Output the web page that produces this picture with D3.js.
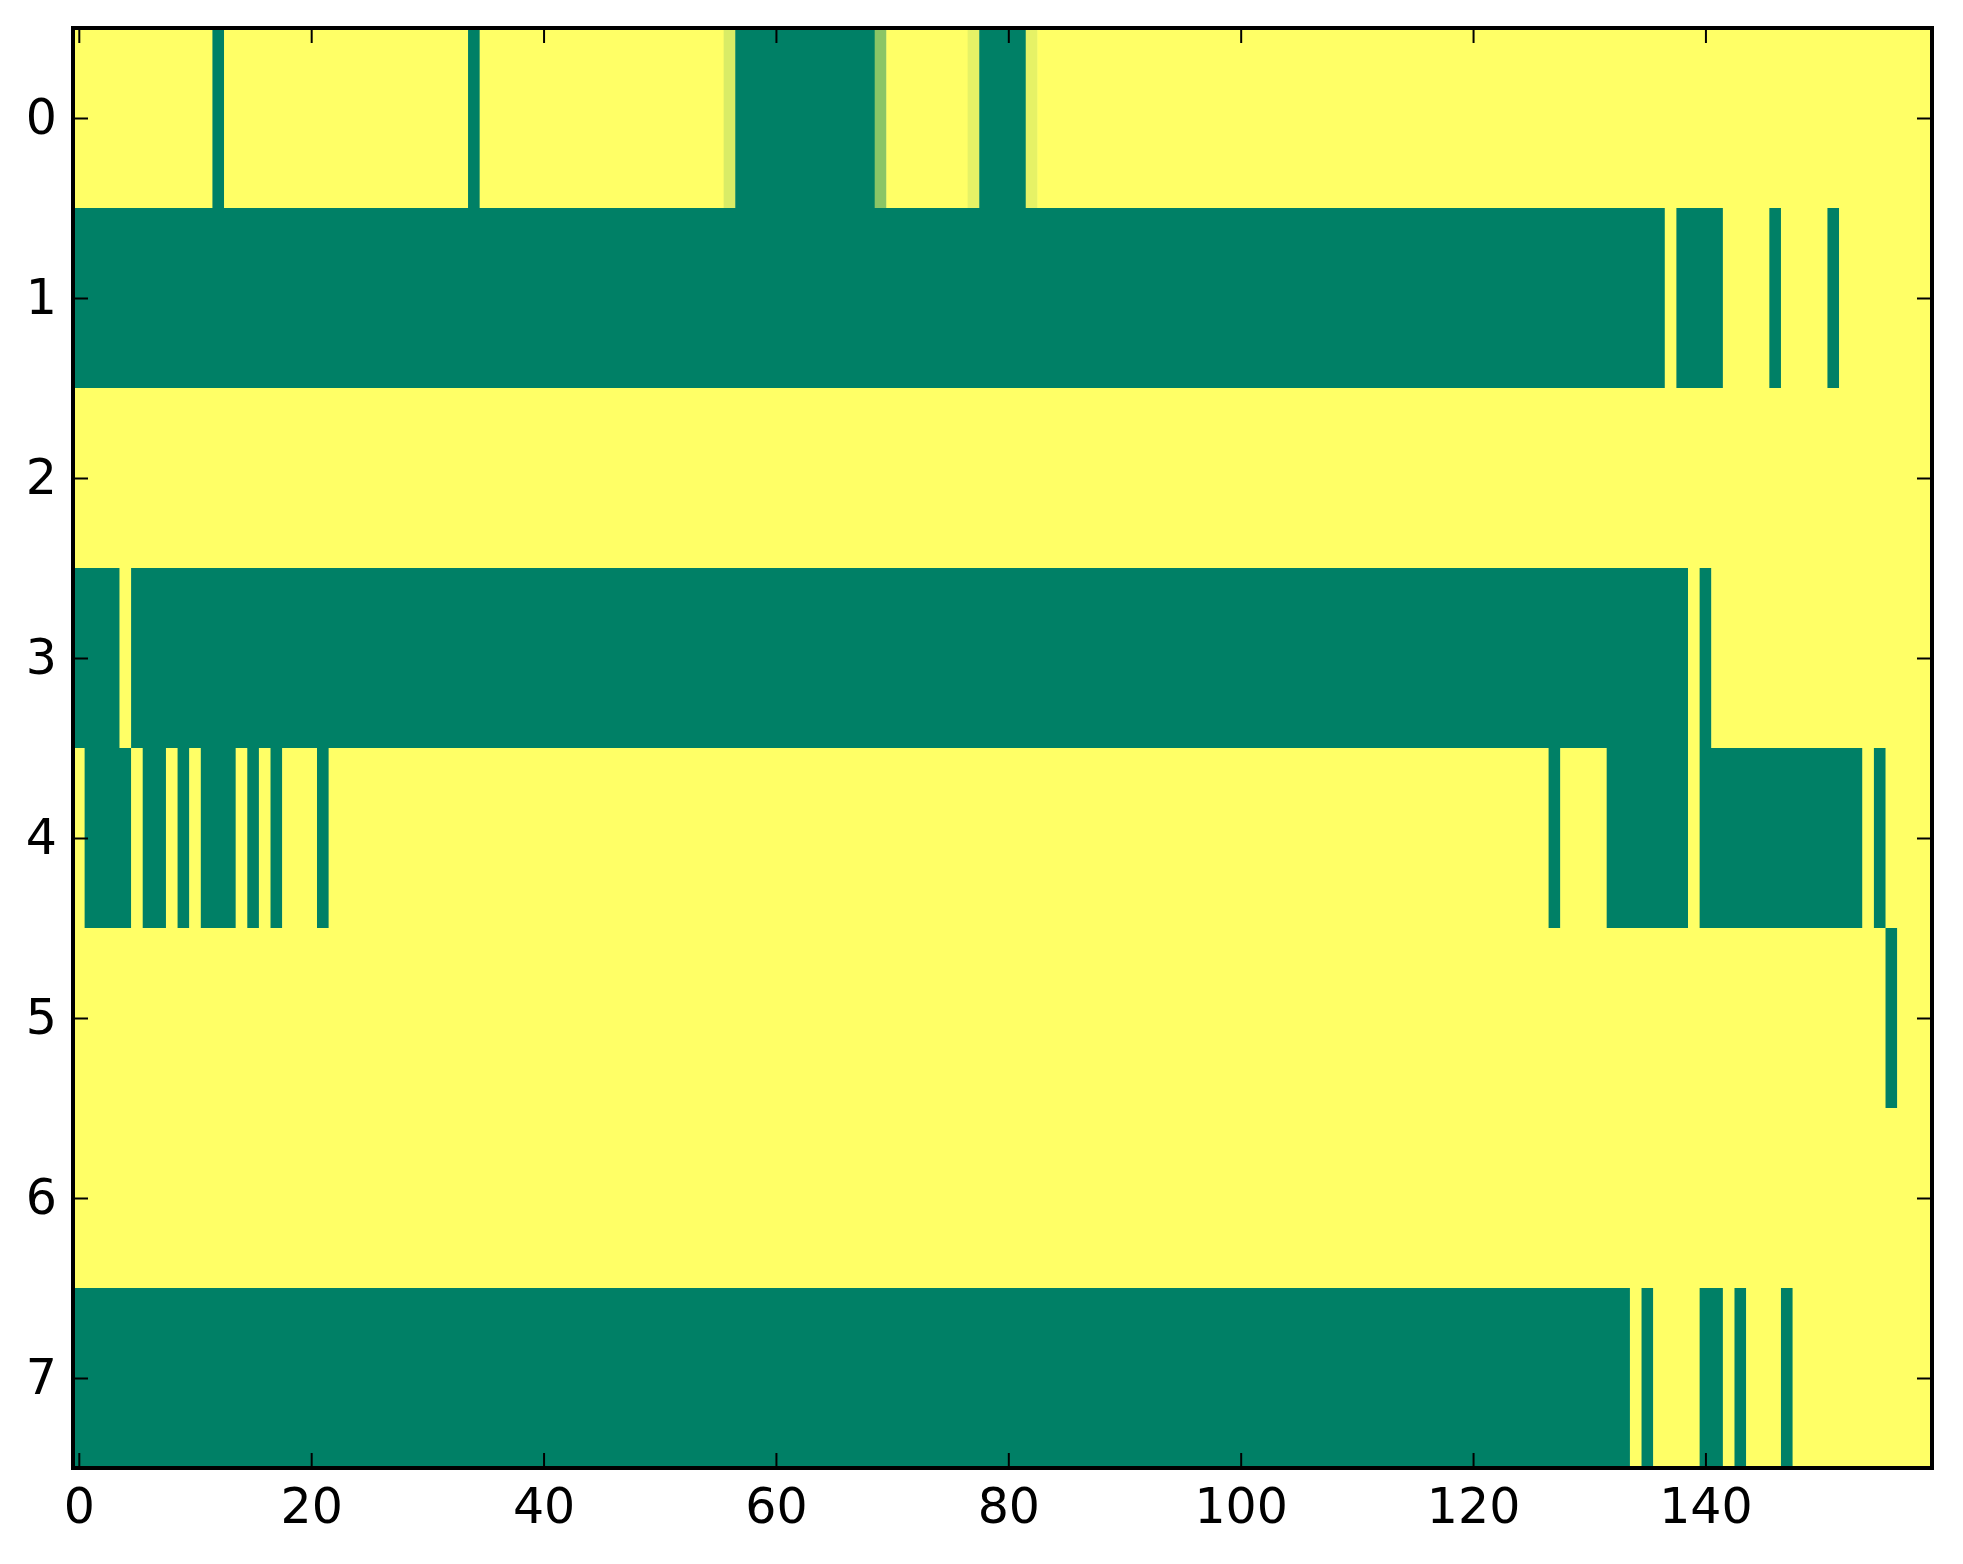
<!DOCTYPE html>
<html>
<head>
<meta charset="utf-8">
<script src="https://cdn.jsdelivr.net/npm/d3@7"></script>
<style>
  body { margin: 0; background: #fff; }
  svg { display: block; }
  .tick text { font-family: "DejaVu Sans", sans-serif; font-size: 49px; fill: #000; }
</style>
</head>
<body>
<svg></svg>
<script>
const WIDTH = 1963;
const HEIGHT = 1564;
const MARGIN = {top: 28, right: 31, bottom: 96, left: 73};

const N_COLS = 160;
const rowLabels = [0, 1, 2, 3, 4, 5, 6, 7];
const xTicks = [0, 20, 40, 60, 80, 100, 120, 140];

// cell codes: '#' = 0 (green end), '.' = 1 (yellow end), letters = in-between
const codeValues = {'#': 0, '.': 1, 'a': 0.54, 'b': 0.85, 'c': 0.9};

// each row written as runs of [count, code], read left to right
const row0 = [[12, '.'], [1, '#'], [21, '.'], [1, '#'], [21, '.'], [1, 'b'], [12, '#'],
  [1, 'a'], [7, '.'], [1, 'c'], [4, '#'], [1, 'c'], [77, '.']];
const row1 = [[137, '#'], [1, '.'], [4, '#'], [4, '.'], [1, '#'], [4, '.'], [1, '#'], [8, '.']];
const row2 = [[160, '.']];
const row3 = [[4, '#'], [1, '.'], [134, '#'], [1, '.'], [1, '#'], [19, '.']];
const row4 = [[1, '.'], [4, '#'], [1, '.'], [2, '#'], [1, '.'], [1, '#'], [1, '.'], [3, '#'],
  [1, '.'], [1, '#'], [1, '.'], [1, '#'], [3, '.'], [1, '#'], [105, '.'], [1, '#'],
  [4, '.'], [7, '#'], [1, '.'], [14, '#'], [1, '.'], [1, '#'], [4, '.']];
const row5 = [[156, '.'], [1, '#'], [3, '.']];
const row6 = [[160, '.']];
const row7 = [[134, '#'], [1, '.'], [1, '#'], [4, '.'], [2, '#'], [1, '.'], [1, '#'],
  [3, '.'], [1, '#'], [12, '.']];
const rowRuns = [row0, row1, row2, row3, row4, row5, row6, row7];

// expand runs into one value per cell
function expand(runs) {
  const out = [];
  runs.forEach(([n, code]) => {
    for (let k = 0; k < n; k++) out.push(codeValues[code]);
  });
  return out;
}

// merge neighbouring cells of equal value so no seams show between them
function spans(vals, r) {
  const out = [];
  vals.forEach((v, c) => {
    const last = out[out.length - 1];
    if (last && last.v === v) last.c1 = c;
    else out.push({r, c0: c, c1: c, v});
  });
  return out;
}

window.onload = () => {
  const matrix = rowRuns.map(expand);
  const blocks = matrix.flatMap(spans);

  const innerW = WIDTH - MARGIN.left - MARGIN.right;
  const innerH = HEIGHT - MARGIN.top - MARGIN.bottom;

  const x = d3.scaleLinear().domain([-0.5, N_COLS - 0.5]).range([0, innerW]);
  const y = d3.scaleLinear().domain([-0.5, rowLabels.length - 0.5]).range([0, innerH]);
  // matplotlib "summer": green (0) to yellow (1)
  const color = d3.scaleLinear().domain([0, 1])
      .range(['#008066', '#ffff66']).interpolate(d3.interpolateRgb);

  const svg = d3.select('svg')
      .attr('width', WIDTH)
      .attr('height', HEIGHT);
  const g = svg.append('g')
      .attr('transform', `translate(${MARGIN.left}, ${MARGIN.top})`);

  g.append('g').selectAll('rect')
      .data(blocks)
    .enter().append('rect')
      .attr('x', (d) => x(d.c0 - 0.5))
      .attr('y', (d) => y(d.r - 0.5))
      .attr('width', (d) => x(d.c1 + 0.5) - x(d.c0 - 0.5) + 0.5)
      .attr('height', (d) => y(d.r + 0.5) - y(d.r - 0.5) + 0.5)
      .attr('fill', (d) => color(d.v));

  const tickLen = 15;
  const styleAxis = (sel) => {
    sel.select('.domain').remove();
    sel.selectAll('.tick line').attr('stroke', '#000').attr('stroke-width', 2);
  };

  g.append('g')
      .attr('transform', `translate(0, ${innerH})`)
      .call(d3.axisBottom(x).tickValues(xTicks).tickSizeInner(-tickLen)
          .tickSizeOuter(0).tickPadding(20))
      .call(styleAxis);
  g.append('g')
      .call(d3.axisTop(x).tickValues(xTicks).tickSizeInner(-tickLen)
          .tickSizeOuter(0).tickFormat(''))
      .call(styleAxis);
  g.append('g')
      .call(d3.axisLeft(y).tickValues(rowLabels).tickSizeInner(-tickLen)
          .tickSizeOuter(0).tickPadding(16))
      .call(styleAxis);
  g.append('g')
      .attr('transform', `translate(${innerW}, 0)`)
      .call(d3.axisRight(y).tickValues(rowLabels).tickSizeInner(-tickLen)
          .tickSizeOuter(0).tickFormat(''))
      .call(styleAxis);

  g.selectAll('.tick text').attr('font-family', null).attr('font-size', null);

  // frame
  g.append('rect')
      .attr('width', innerW)
      .attr('height', innerH)
      .attr('fill', 'none')
      .attr('stroke', '#000')
      .attr('stroke-width', 4);
};
</script>
</body>
</html>
